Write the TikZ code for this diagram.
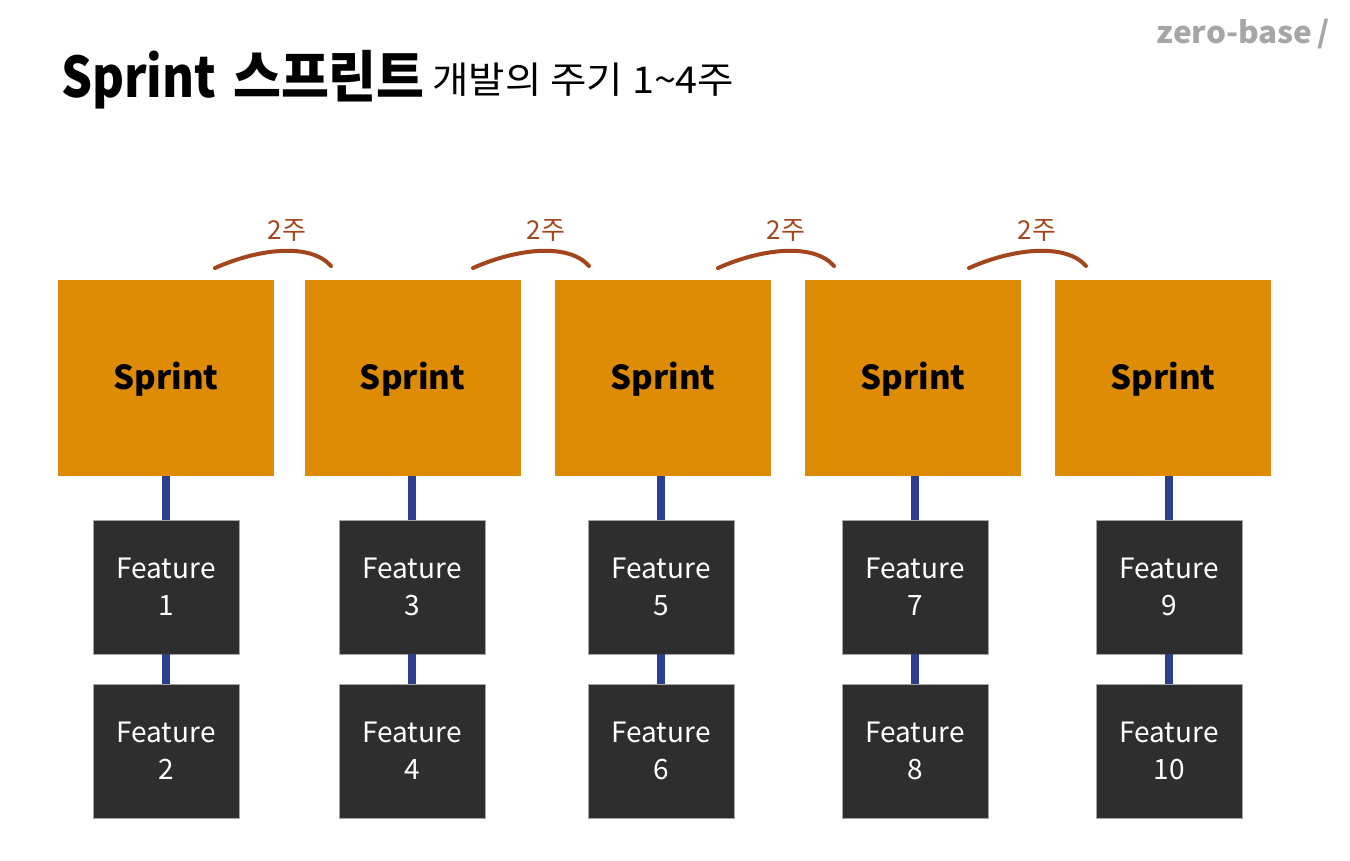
\documentclass[tikz,border=0pt]{standalone}
\usepackage{fontspec}
\setmainfont{Noto Sans CJK KR}
\definecolor{sprintc}{HTML}{DE8C06}
\definecolor{featc}{HTML}{2E2E2E}
\definecolor{linkc}{HTML}{2B3F8C}
\definecolor{arcc}{HTML}{A3461D}
\definecolor{logoc}{HTML}{A6A6A6}
\tikzset{
  sprintbox/.style={fill=sprintc, minimum width=216pt, minimum height=196pt, inner sep=0pt, font=\fontsize{33}{36}\selectfont\bfseries},
  featbox/.style={fill=featc, draw=gray!70, line width=0.8pt, minimum width=146pt, minimum height=134pt, inner sep=0pt, text=white, align=center, font=\fontsize{28}{37}\selectfont},
  link/.style={draw=linkc, line width=8pt},
  weekarc/.style={draw=arcc, line width=4pt, line cap=round},
  weeklbl/.style={text=arcc, font=\fontsize{26}{30}\selectfont, inner sep=0pt}
}
\begin{document}
\begin{tikzpicture}[x=1pt,y=-1pt]
\useasboundingbox (0,0) rectangle (1350,860);
\fill[white] (0,0) rectangle (1350,860);
% title
\node[anchor=base west, inner sep=0pt, font=\fontsize{56}{60}\selectfont\bfseries] (title) at (61,97) {\scalebox{0.87}[1]{Sprint}\hspace{0.3em}\scalebox{0.93}[1]{스프린트}};
\node[anchor=base west, inner sep=0pt, font=\fontsize{37}{40}\selectfont] (subtitle) at (432,93) {\scalebox{1.07}[1]{개발의 주기 1\textasciitilde4주}};
\node[anchor=base east, inner sep=0pt, text=logoc, font=\fontsize{30}{32}\selectfont\bfseries] (logo) at (1330,43) {\scalebox{1.05}[1]{zero-base\,/}};
% sprints
\foreach \i/\x/\cx/\a/\b in {1/166/166/1/2, 2/412.5/412/3/4, 3/663/661/5/6, 4/913/915/7/8, 5/1163/1169/9/10}{
  \node[sprintbox] (s\i) at (\x,378) {\raisebox{-11pt}[0pt][0pt]{Sprint}};
  \node[featbox] (fa\i) at (\cx,587) {Feature\\\a};
  \node[featbox] (fb\i) at (\cx,751) {Feature\\\b};
  \draw[link] (s\i.south -| fa\i.north) -- (fa\i.north);
  \draw[link] (fa\i.south) -- (fb\i.north);
}
% arcs
\foreach \j/\xa/\xb/\lx in {1/215/331/287, 2/473/589/546, 3/718/834/786, 4/969/1086/1037}{
  \coordinate (ea\j) at (\xa,268);
  \coordinate (eb\j) at (\xb,266);
  \draw[weekarc] (ea\j) .. controls (\xa+45,248) and (\xb-20,243) .. (eb\j);
  \node[weeklbl] (w\j) at (\lx,230) {2주};
}
\end{tikzpicture}
\end{document}
